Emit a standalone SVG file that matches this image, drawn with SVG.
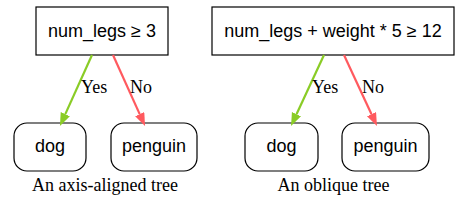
<svg xmlns="http://www.w3.org/2000/svg" width="464" height="207" viewBox="0 0 464 207">
<style>
.box{fill:#fff;stroke:#000;stroke-width:1.2}
.nt{font-family:"Liberation Sans",Arial,sans-serif;font-size:18px;text-anchor:middle;fill:#000}
.lt{font-family:"Liberation Serif","Times New Roman",serif;font-size:18px;fill:#000}
.cap{font-family:"Liberation Serif","Times New Roman",serif;font-size:18px;text-anchor:middle;fill:#000}
.yes{stroke:#8acc26;stroke-width:2.2;fill:none}
.no{stroke:#ff5a5f;stroke-width:2.2;fill:none}
</style>
<defs>
<marker id="ag" markerUnits="userSpaceOnUse" markerWidth="14" markerHeight="12" refX="0" refY="5" orient="auto"><path d="M0,0 L13,5 L0,10 z" fill="#8acc26"/></marker>
<marker id="ar" markerUnits="userSpaceOnUse" markerWidth="14" markerHeight="12" refX="0" refY="5" orient="auto"><path d="M0,0 L13,5 L0,10 z" fill="#ff5a5f"/></marker>
</defs>
<rect width="464" height="207" fill="#fff"/>
<g id="root1"><rect class="box" x="36" y="7" width="132" height="48"/><text class="nt" x="102" y="37">num_legs ≥ 3</text></g>
<g id="dog1"><rect class="box" x="14" y="123" width="72" height="48" rx="13"/><text class="nt" x="50" y="152">dog</text></g>
<g id="penguin1"><rect class="box" x="111" y="123" width="86" height="48" rx="13"/><text class="nt" x="154" y="152">penguin</text></g>
<g id="root2"><rect class="box" x="212" y="7" width="242" height="48"/><text class="nt" x="333" y="37">num_legs + weight * 5 ≥ 12</text></g>
<g id="dog2"><rect class="box" x="245" y="123" width="73" height="48" rx="13"/><text class="nt" x="281.5" y="152">dog</text></g>
<g id="penguin2"><rect class="box" x="342" y="123" width="87" height="48" rx="13"/><text class="nt" x="385.5" y="152">penguin</text></g>
<g id="connectors">
<line class="yes" x1="92" y1="55" x2="65.3" y2="114.1" marker-end="url(#ag)"/>
<line class="no" x1="113" y1="55" x2="139.7" y2="114.1" marker-end="url(#ar)"/>
<line class="yes" x1="324" y1="55" x2="296.5" y2="114.2" marker-end="url(#ag)"/>
<line class="no" x1="344" y1="55" x2="371.5" y2="114.2" marker-end="url(#ar)"/>
<text class="lt" x="81" y="93">Yes</text>
<text class="lt" x="130" y="93">No</text>
<text class="lt" x="312" y="93">Yes</text>
<text class="lt" x="362" y="93">No</text>
</g>
<text class="cap" x="105" y="191">An axis-aligned tree</text>
<text class="cap" x="333.5" y="191">An oblique tree</text>
</svg>
